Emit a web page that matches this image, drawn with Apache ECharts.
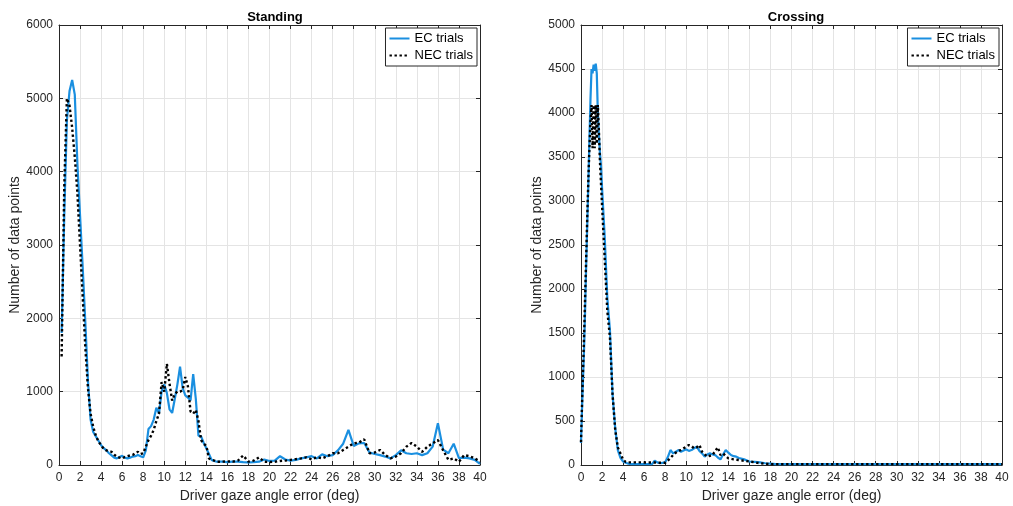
<!DOCTYPE html>
<html><head><meta charset="utf-8">
<script src="https://cdn.jsdelivr.net/npm/echarts@6/dist/echarts.min.js"></script>
<style>html,body{margin:0;padding:0;background:#fff}#c{width:1013px;height:506px}</style>
</head><body><div id="c"></div>
<script>
// ---- Data ----
// Standing panel: angle samples (deg)
const standingAngle = [0,0.25,0.5,0.75,1,1.25,1.5,1.75,2,2.25,2.5,2.75,3,3.25,3.5,3.75,4,4.25,4.5,4.75,5,5.25,5.5,5.75,6,6.25,6.5,6.75,7,7.25,7.5,7.75,8,8.25,8.5,8.75,9,9.25,9.5,9.75,10,10.25,10.5,10.75,11,11.25,11.5,11.75,12,12.25,12.5,12.75,13,13.25,13.5,13.75,14,14.25,14.5,14.75,15,
15.5,16,16.5,17,17.5,18,18.5,19,19.5,20,20.5,21,21.5,22,22.5,23,23.5,24,24.5,25,25.5,26,26.5,27,27.5,28,28.5,29,29.5,30,30.5,31,31.5,32,32.5,33,33.5,34,34.5,35,35.5,36,36.5,37,37.5,38,38.5,39,39.5,40];
const standingEC = [null,1800,3400,4700,5100,5250,5050,4100,3400,2700,1950,1150,620,450,390,330,270,230,200,160,130,100,90,110,125,100,90,100,115,120,135,120,105,200,490,530,620,780,700,1000,1100,980,760,710,900,1100,1340,1050,950,920,880,1240,900,400,390,300,230,150,70,55,45,
45,40,45,45,40,36,40,45,75,55,60,120,75,60,70,90,105,120,90,145,120,135,200,290,480,260,295,300,170,150,135,115,90,135,200,160,150,160,135,160,250,570,210,160,290,95,100,90,70,15];
const standingNEC = [null,1480,3800,5000,4900,4600,4200,3700,3000,2300,1600,1050,700,520,400,320,270,220,200,190,180,140,115,100,90,110,120,130,135,160,180,150,160,250,340,400,480,600,700,1130,1000,1380,1110,880,970,1000,1000,1020,1200,1070,730,700,750,600,340,290,260,90,70,60,45,
45,50,45,60,130,45,60,105,45,40,45,55,60,70,80,90,105,77,105,90,120,160,160,205,250,295,305,350,160,170,205,135,90,115,160,250,300,250,180,250,295,340,200,70,90,45,135,120,90,45];
// Crossing panel: angle samples (deg)
const crossingAngle = [0,0.1,0.2,0.3,0.4,0.5,0.6,0.7,0.8,0.9,1,1.1,1.2,1.3,1.4,1.5,1.6,1.7,1.8,1.9,2,
2.25,2.5,2.75,3,3.25,3.5,3.75,4,4.25,4.5,4.75,5,5.25,5.5,5.75,6,6.25,6.5,6.75,7,7.25,7.5,7.75,8,8.25,8.5,8.75,9,9.25,9.5,9.75,10,10.25,10.5,10.75,11,11.25,11.5,11.75,12,12.25,12.5,12.75,13,13.25,13.5,13.75,14,14.25,14.5,14.75,15,
15.5,16,16.5,17,17.5,18,18.5,19,19.5,20,20.5,21,21.5,22,22.5,23,23.5,24,24.5,25,25.5,26,26.5,27,27.5,28,28.5,29,29.5,30,30.5,31,31.5,32,32.5,33,33.5,34,34.5,35,35.5,36,36.5,37,37.5,38,38.5,39,39.5,40];
const crossingEC = [250,650,1000,1350,1800,2300,2750,3200,3700,4150,4500,4450,4550,4480,4560,4450,4000,3750,3550,3400,3150,
2600,1900,1530,800,420,170,80,40,25,15,10,10,10,10,10,10,10,10,10,49,30,20,25,30,90,170,132,150,170,151,165,178,160,170,190,208,160,132,95,120,132,120,113,85,64,120,170,140,113,100,95,80,
64,40,35,30,20,15,10,10,10,10,10,10,10,10,10,10,10,10,10,10,10,10,10,10,10,10,10,10,10,10,10,10,10,10,10,10,10,10,10,10,10,10,10,10,10,10,10,10,10,10];
const crossingNEC = [260,700,1100,1500,1950,2400,2850,3250,3600,3900,4090,3600,4090,3600,4090,3650,4090,3800,3450,3200,2950,
2350,1750,1450,800,400,200,130,60,35,30,30,30,30,30,30,28,28,28,28,28,25,25,25,25,50,80,113,140,160,170,190,208,227,215,189,200,227,151,120,95,105,113,160,200,113,132,100,76,70,64,60,57,
48,40,30,20,15,10,10,10,10,10,10,10,10,10,10,10,10,10,10,10,10,10,10,10,10,10,10,10,10,10,10,10,10,10,10,10,10,10,10,10,10,10,10,10,10,10,10,10,10,10];
const panelTitles = ['Standing','Crossing'];
const seriesNames = ['EC trials','NEC trials'];

// ---- Chart ----
const pair = (xs, ys) => xs.map((x, i) => [x, ys[i]]);
const FONT = '"Liberation Sans", Arial, Helvetica, sans-serif';
const TXT = '#262626';
const EC_COLOR = '#1a8fe0';
const GRIDC = '#e4e4e4';

function xAxisCfg(gi){
  return {
    gridIndex: gi, type: 'value', position: 'bottom', min: 0, max: 40, interval: 2,
    name: 'Driver gaze angle error (deg)', nameLocation: 'middle', nameGap: 23,
    nameTextStyle: {fontFamily: FONT, fontSize: 14, color: TXT},
    axisLine: {show: true, onZero: false, lineStyle: {color: TXT, width: 1}},
    axisTick: {show: true, inside: true, length: 4, lineStyle: {color: TXT}},
    axisLabel: {fontFamily: FONT, fontSize: 12, color: TXT, margin: 7, formatter: v => String(v)},
    splitLine: {show: true, lineStyle: {color: GRIDC, width: 1}}
  };
}
function xAxisTop(gi){
  return {
    gridIndex: gi, type: 'value', position: 'top', min: 0, max: 40, interval: 2,
    axisLine: {show: true, onZero: false, lineStyle: {color: TXT, width: 1}},
    axisTick: {show: true, inside: true, length: 4, lineStyle: {color: TXT}},
    axisLabel: {show: false}, splitLine: {show: false}
  };
}
function yAxisCfg(gi, max, interval){
  return {
    gridIndex: gi, type: 'value', position: 'left', min: 0, max: max, interval: interval,
    name: 'Number of data points', nameLocation: 'middle', nameGap: 27, nameRotate: 90,
    nameTextStyle: {fontFamily: FONT, fontSize: 14, color: TXT},
    axisLine: {show: true, onZero: false, lineStyle: {color: TXT, width: 1}},
    axisTick: {show: true, inside: true, length: 4, lineStyle: {color: TXT}},
    axisLabel: {fontFamily: FONT, fontSize: 12, color: TXT, margin: 6, formatter: v => String(v)},
    splitLine: {show: true, lineStyle: {color: GRIDC, width: 1}}
  };
}
function yAxisRight(gi, max, interval){
  return {
    gridIndex: gi, type: 'value', position: 'right', min: 0, max: max, interval: interval,
    axisLine: {show: true, onZero: false, lineStyle: {color: TXT, width: 1}},
    axisTick: {show: true, inside: true, length: 4, lineStyle: {color: TXT}},
    axisLabel: {show: false}, splitLine: {show: false}
  };
}
function ecSeries(idx, xs, ys){
  return {name: seriesNames[0], type: 'line', xAxisIndex: idx, yAxisIndex: idx, data: pair(xs, ys),
    symbol: 'none', connectNulls: false, lineStyle: {color: EC_COLOR, width: 2.2}, itemStyle: {color: EC_COLOR},
    animation: false, z: 2};
}
function necSeries(idx, xs, ys){
  return {name: seriesNames[1], type: 'line', xAxisIndex: idx, yAxisIndex: idx, data: pair(xs, ys),
    symbol: 'none', lineStyle: {color: '#000', width: 2.4, type: [2.4, 2.6]}, itemStyle: {color: '#000'},
    animation: false, z: 3};
}
function legendCfg(right){
  return {
    right: right, top: 28, orient: 'vertical', data: seriesNames,
    backgroundColor: '#fff', borderColor: TXT, borderWidth: 1, borderRadius: 0,
    padding: [4, 4, 4, 3], itemGap: 4, itemWidth: 20, itemHeight: 12,
    itemStyle: {opacity: 0},
    textStyle: {fontFamily: FONT, fontSize: 13, color: '#000'},
    selectedMode: false
  };
}

const chart = echarts.init(document.getElementById('c'), null, {renderer: 'canvas'});
chart.setOption({
  backgroundColor: '#fff',
  animation: false,
  title: [
    {text: panelTitles[0], left: 270, top: 6, textAlign: 'center', textStyle: {fontFamily: FONT, fontSize: 13, fontWeight: 'bold', color: '#000'}},
    {text: panelTitles[1], left: 791, top: 6, textAlign: 'center', textStyle: {fontFamily: FONT, fontSize: 13, fontWeight: 'bold', color: '#000'}}
  ],
  grid: [
    {left: 59, top: 25, width: 421, height: 440, show: false, containLabel: false, outerBoundsMode: 'none'},
    {left: 581, top: 25, width: 421, height: 440, show: false, containLabel: false, outerBoundsMode: 'none'}
  ],
  xAxis: [xAxisCfg(0), xAxisCfg(1), xAxisTop(0), xAxisTop(1)],
  yAxis: [yAxisCfg(0, 6000, 1000), yAxisCfg(1, 5000, 500), yAxisRight(0, 6000, 1000), yAxisRight(1, 5000, 500)],
  legend: [legendCfg(536), legendCfg(14)],
  series: [
    ecSeries(0, standingAngle, standingEC),
    necSeries(0, standingAngle, standingNEC),
    ecSeries(1, crossingAngle, crossingEC),
    necSeries(1, crossingAngle, crossingNEC)
  ]
});
</script></body></html>
